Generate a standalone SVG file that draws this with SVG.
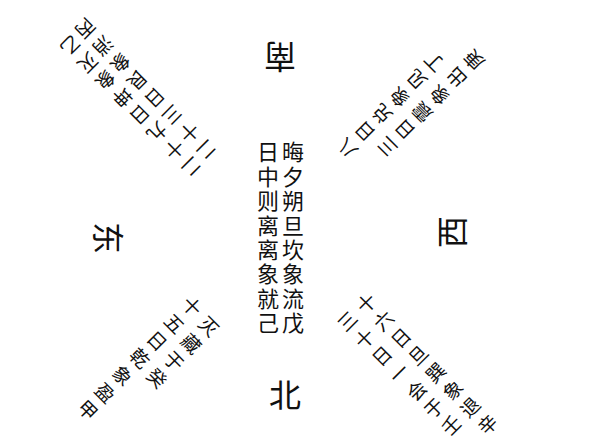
<svg xmlns="http://www.w3.org/2000/svg" width="600" height="441" viewBox="0 0 600 441">
<style>
text{font-family:"Noto Sans CJK SC","Noto Sans CJK TC",sans-serif;fill:#111;text-anchor:middle;dominant-baseline:central}
.dir{font-size:32px}
.ctr{font-size:22px;writing-mode:vertical-rl;text-anchor:start;letter-spacing:2.4px}
.diag{font-size:19px}
</style>
<rect width="600" height="441" fill="#fff"/>
<g id="directions">
<g id="south"><text class="dir" transform="translate(280,59) rotate(180)">南</text></g>
<g id="west"><text class="dir" transform="translate(450,232) rotate(-90)">西</text></g>
<g id="east"><text class="dir" transform="translate(110,238) rotate(90)">东</text></g>
<g id="north"><text class="dir" transform="translate(285,393)">北</text></g>
</g>
<g id="center">
<text class="ctr" x="293" y="141">晦夕朔旦坎象流戊</text>
<text class="ctr" x="268" y="141">日中则离离象就己</text>
</g>
<g id="top-left">
<text class="diag" transform="translate(208,151) rotate(135)"><tspan x="0" y="0">二</tspan><tspan x="0" y="24.5">十</tspan><tspan x="0" y="49">三</tspan><tspan x="0" y="73.5">日</tspan><tspan x="0" y="98">艮</tspan><tspan x="0" y="122.5">象</tspan><tspan x="0" y="147">消</tspan><tspan x="0" y="171.5">丙</tspan></text>
<text class="diag" transform="translate(193,168) rotate(135)"><tspan x="0" y="0">二</tspan><tspan x="0" y="24.5">十</tspan><tspan x="0" y="49">九</tspan><tspan x="0" y="73.5">日</tspan><tspan x="0" y="98">坤</tspan><tspan x="0" y="122.5">象</tspan><tspan x="0" y="147">灭</tspan><tspan x="0" y="171.5">乙</tspan></text>
</g>
<g id="top-right">
<text class="diag" transform="translate(386,148) rotate(225)"><tspan x="0" y="0">三</tspan><tspan x="0" y="24.5">日</tspan><tspan x="0" y="49">震</tspan><tspan x="0" y="73.5">象</tspan><tspan x="0" y="98">出</tspan><tspan x="0" y="122.5">庚</tspan></text>
<text class="diag" transform="translate(346,150) rotate(225)"><tspan x="0" y="0">八</tspan><tspan x="0" y="24.5">日</tspan><tspan x="0" y="49">兑</tspan><tspan x="0" y="73.5">象</tspan><tspan x="0" y="98">见</tspan><tspan x="0" y="122.5">丁</tspan></text>
</g>
<g id="bottom-left">
<text class="diag" transform="translate(193,305) rotate(45)"><tspan x="0" y="0">十</tspan><tspan x="0" y="24.5">五</tspan><tspan x="0" y="49">日</tspan><tspan x="0" y="73.5">乾</tspan><tspan x="0" y="98">象</tspan><tspan x="0" y="122.5">盈</tspan><tspan x="0" y="147">甲</tspan></text>
<text class="diag" transform="translate(210,325) rotate(45)"><tspan x="0" y="0">灭</tspan><tspan x="0" y="24.5">藏</tspan><tspan x="0" y="49">于</tspan><tspan x="0" y="73.5">癸</tspan></text>
</g>
<g id="bottom-right">
<text class="diag" transform="translate(365,302) rotate(-45)"><tspan x="0" y="0">十</tspan><tspan x="0" y="24.5">六</tspan><tspan x="0" y="49">日</tspan><tspan x="0" y="73.5">旦</tspan><tspan x="0" y="98">巽</tspan><tspan x="0" y="122.5">象</tspan><tspan x="0" y="147">退</tspan><tspan x="0" y="171.5">辛</tspan></text>
<text class="diag" transform="translate(346,320) rotate(-45)"><tspan x="0" y="0">三</tspan><tspan x="0" y="24.5">十</tspan><tspan x="0" y="49">日</tspan><tspan x="0" y="73.5">一</tspan><tspan x="0" y="98">会</tspan><tspan x="0" y="122.5">于</tspan><tspan x="0" y="147">壬</tspan></text>
</g>
<g id="connectors"></g>
</svg>
